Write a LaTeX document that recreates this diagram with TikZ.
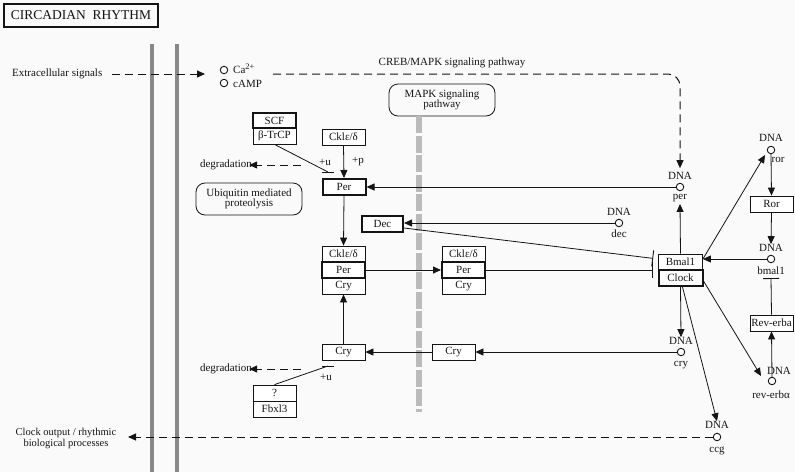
\documentclass[tikz,border=0pt]{standalone}
\usepackage{fontspec}
\setmainfont{Liberation Serif}
\usetikzlibrary{arrows.meta}
\definecolor{bgc}{RGB}{250,250,250}
\definecolor{membr}{RGB}{136,136,136}
\definecolor{mapkbar}{RGB}{187,187,187}
\definecolor{ink}{RGB}{20,20,20}
\begin{document}
\begin{tikzpicture}[x=1pt,y=-1pt,
  font=\fontsize{11}{12}\selectfont, color=ink,
  every node/.style={inner sep=0pt},
  gbox/.style={draw=ink, line width=0.8pt, minimum width=43pt, minimum height=16pt, fill=white},
  tbox/.style={gbox, line width=2pt},
  dot/.style={draw=ink, circle, line width=0.9pt, minimum size=7.5pt, fill=white},
  ar/.style={draw=ink, line width=0.8pt, -{Triangle[length=8pt,width=7pt]}},
  inh/.style={draw=ink, line width=0.8pt, -{Bar[width=16pt,line width=0.9pt]}},
  dsh/.style={line width=1pt, dash pattern=on 8pt off 5pt},
  rbox/.style={draw=ink, rounded corners=9pt, line width=0.8pt, minimum width=106pt, minimum height=32pt, align=center, font=\fontsize{11}{10.5}\selectfont}
]
\path[fill=bgc] (0,0) rectangle (795,472);
\useasboundingbox (0,0) rectangle (795,472);

% title
\node[draw=ink, line width=2pt, minimum width=154pt, minimum height=23pt, font=\fontsize{13.5}{14}\selectfont] (title) at (81,15) {CIRCADIAN\ \ RHYTHM};

% membranes
\fill[membr] (150,44) rectangle (154,472);
\fill[membr] (175,44) rectangle (179,472);

% extracellular
\node[anchor=west] (ext) at (12,74) {Extracellular signals};
\coordinate (extend) at (205,74);
\node[dot] (ca) at (224,70) {};
\node[dot] (camp) at (224,83) {};
\node[anchor=west] (calbl) at (233,69) {Ca\raisebox{4pt}{\fontsize{8.5}{9}\selectfont 2+}};
\node[anchor=west] (camplbl) at (233,84) {cAMP};
\coordinate (crebs) at (273,74);
\node (creblbl) at (452,63) {CREB/MAPK signaling pathway};

% MAPK
\node[rbox] (mapk) at (442,100) {MAPK signaling\\pathway};
\coordinate (mapktop) at (419,116);
\coordinate (mapkbot) at (419,412);
\draw[line width=6pt, draw=mapkbar, dash pattern=on 17pt off 2.5pt] (mapktop) -- (mapkbot);

% left side nodes
\node[tbox, minimum height=15pt] (scf) at (274.5,120.5) {SCF};
\node[gbox] (btrcp) at (274.5,136) {β-TrCP};
\node[gbox] (ckl1) at (343.5,137) {Cklε/δ};
\node[tbox] (per1) at (344,187) {Per};
\node (plusp) at (358,162) {+p};
\node (plusu1) at (325,162) {+u};
\coordinate (u1) at (328,172);
\node (deg1) at (226,165) {degradation};
\coordinate (deg1s) at (301,165);
\node[rbox] (ubiq) at (249,199) {Ubiquitin mediated\\proteolysis};
\node[tbox, minimum width=41pt] (dec) at (382.5,224) {Dec};

% complexes
\node[gbox] (c1k) at (343.5,254) {Cklε/δ};
\node[tbox] (c1p) at (343.5,270) {Per};
\node[gbox] (c1c) at (343.5,286) {Cry};
\node[gbox] (c2k) at (463.5,254) {Cklε/δ};
\node[tbox] (c2p) at (463.5,270) {Per};
\node[gbox] (c2c) at (463.5,286) {Cry};

% Cry
\node[gbox] (cry1) at (343.5,352) {Cry};
\node[gbox] (cry2) at (453.5,352) {Cry};
\node (plusu2) at (326,377) {+u};
\coordinate (u2) at (328,366);
\node (deg2) at (226,369) {degradation};
\coordinate (deg2s) at (301,369);
\node[gbox] (q) at (274.5,393) {?};
\node[gbox] (fbx) at (274.5,409) {Fbxl3};

% Bmal1 / Clock
\node[gbox, minimum width=44pt] (bmal) at (680.5,262) {Bmal1};
\node[tbox, minimum width=44pt] (clock) at (680.5,278) {Clock};

% DNA per
\node[dot] (perdna) at (680,187) {};
\node (perdnalbl) at (680,176) {DNA};
\node (perlbl) at (680,198) {per};
% DNA dec
\node[dot] (decdna) at (619,223) {};
\node (decdnalbl) at (619,212) {DNA};
\node (declbl) at (619,234) {dec};
% DNA cry
\node[dot] (crydna) at (681,352) {};
\node (crydnalbl) at (681,341) {DNA};
\node (crylbl) at (681,365) {cry};
% DNA ror
\node[dot] (rordna) at (771,150) {};
\node (rordnalbl) at (771,138) {DNA};
\node (rorlbl) at (778,160) {ror};
\node[gbox] (ror) at (771.5,204) {Ror};
% DNA bmal1
\node[dot] (bmaldna) at (771,259) {};
\node (bmaldnalbl) at (771,248) {DNA};
\node (bmallbl) at (771,271) {bmal1};
\node[gbox] (rev) at (771.5,323) {Rev-erba};
% DNA rev-erba
\node[dot] (revdna) at (772,381) {};
\node (revdnalbl) at (779,371) {DNA};
\node (revlbl) at (771,395) {rev-erbα};
% DNA ccg
\node[dot] (ccgdna) at (717,437) {};
\node (ccgdnalbl) at (717,425) {DNA};
\node (ccglbl) at (717,451) {ccg};
\node[align=center, font=\fontsize{10.5}{11}\selectfont] (out) at (66,438) {Clock output / rhythmic\\biological processes};
\coordinate (outend) at (128,437);

% connectors
\draw[ar, dsh, shorten <=9pt] (ext.east) -- (extend);
\draw[ar, dsh, rounded corners=12pt] (crebs) -| ([yshift=4pt]perdnalbl.north);
\draw[ar] (ckl1.south) -- (per1.north);
\draw[draw=ink, line width=0.8pt] (btrcp.south) -- (u1);
\draw[draw=ink, line width=0.9pt] ([xshift=-6pt]u1) -- ([xshift=6pt]u1);
\draw[ar, dsh] (deg1s) -- ([xshift=-3pt]deg1.east);
\draw[ar] (per1.south) -- (c1k.north);
\draw[ar] (c1p.east) -- (c2p.west);
\draw[inh, shorten >=5pt] (c2p.east) -- (c2p.east -| bmal.west);
\draw[inh, shorten >=5pt] ([yshift=-4pt]dec.east) -- ([yshift=3pt]bmal.west);
\draw[ar] (decdna.west) -- (decdna.west -| dec.east);
\draw[ar] (perdna.west) -- (perdna.west -| per1.east);
\draw[ar] (bmal.north) -- ([yshift=-2pt]perlbl.south);
\draw[ar] ([yshift=3pt]bmal.east) -- ([xshift=-3pt,yshift=-2pt]rordna.south west);
\draw[ar] (rordna.south) -- (ror.north);
\draw[ar] (ror.south) -- (bmaldnalbl.north);
\draw[ar] (bmaldna.west) -- (bmaldna.west -| bmal.east);
\draw[inh] (rev.north) -- ([yshift=-3pt]bmallbl.south);
\draw[ar] (revdna.north) -- (rev.south);
\draw[ar] ([yshift=-3pt]clock.east) -- ([xshift=-8pt,yshift=2pt]revdna.north west);
\draw[ar] (clock.south) -- (crydnalbl.north);
\draw[ar] ([xshift=2pt]clock.south) -- (ccgdnalbl.north);
\draw[ar] (crydna.west) -- (crydna.west -| cry2.east);
\draw[ar] (cry2.west) -- (cry1.east);
\draw[ar] (cry1.north) -- (c1c.south);
\draw[draw=ink, line width=0.8pt] (q.north) -- (u2);
\draw[draw=ink, line width=0.9pt] ([xshift=-6pt]u2) -- ([xshift=6pt]u2);
\draw[ar, dsh] (deg2s) -- ([xshift=-3pt]deg2.east);
\draw[ar, dsh] (ccgdna.west) -- (outend);
\end{tikzpicture}
\end{document}
